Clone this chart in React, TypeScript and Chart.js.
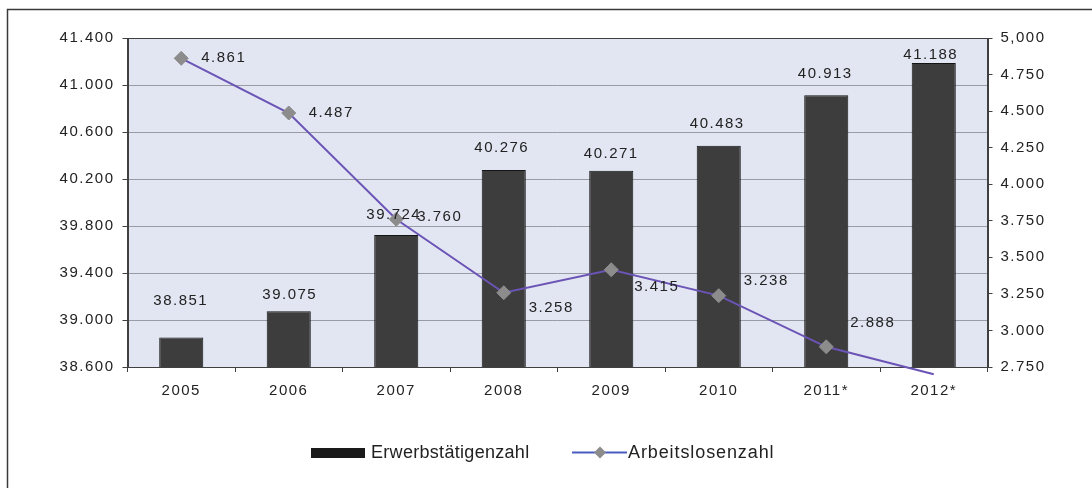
import React, { useEffect, useRef } from 'react';
import { Chart, registerables } from 'chart.js';

Chart.register(...registerables);

const categories = ['2005', '2006', '2007', '2008', '2009', '2010', '2011*', '2012*'];
const erwerbstaetige = [38851, 39075, 39724, 40276, 40271, 40483, 40913, 41188];
const arbeitslose = [4861, 4487, 3760, 3258, 3415, 3238, 2888, 2700];
const leftTickLabels = ['38.600', '39.000', '39.400', '39.800', '40.200', '40.600', '41.000', '41.400'];
const rightTickLabels = ['2.750', '3.000', '3.250', '3.500', '3.750', '4.000', '4.250', '4.500', '4.750', '5,000'];
const seriesNames = ['Erwerbstätigenzahl', 'Arbeitslosenzahl'];

// label placement tweaks (pixels, relative to the mark computed by the scales)
const barLabelOffsets: number[][] = [[-0.5, -37], [1, -16.5], [-2.5, -20.5], [-2, -22], [0, -17], [-1.5, -21.5], [-1, -21], [-3, -8]];
const lineLabelOffsets: (number[] | null)[] = [[20, 0], [20, 0], [21, -2], [25, 15], [23, 17], [25, -15], [24, -24], null];
const pointRadii = [7, 7, 7, 7, 7, 7, 7, 0];

const FONT = '"Liberation Sans", Arial, sans-serif';
const fmt = (v: number) => String(v).replace(/\B(?=(\d{3})+(?!\d))/g, '.');

const decorPlugin = {
  id: 'decor',
  beforeDraw(chart: any) {
    const { ctx, chartArea: a, width, height } = chart;
    ctx.save();
    ctx.fillStyle = '#ffffff';
    ctx.fillRect(0, 0, width, height);
    ctx.fillStyle = '#e2e6f2';
    ctx.fillRect(a.left, a.top, a.right - a.left, a.bottom - a.top);
    ctx.restore();
    (ctx as any).letterSpacing = '1.5px';
  },
  beforeDatasetsDraw(chart: any) {
    const { ctx, chartArea: a } = chart;
    ctx.save();
    ctx.strokeStyle = '#404040';
    ctx.lineWidth = 1;
    ctx.strokeRect(Math.round(a.left) + 0.5, Math.round(a.top) + 0.5, Math.round(a.right - a.left), Math.round(a.bottom - a.top));
    ctx.restore();
  },
  afterDatasetsDraw(chart: any) {
    const { ctx } = chart;
    ctx.save();
    (ctx as any).letterSpacing = '1.5px';
    ctx.font = `15px ${FONT}`;
    ctx.fillStyle = '#222222';
    ctx.textBaseline = 'middle';
    const barMeta = chart.getDatasetMeta(0);
    barMeta.data.forEach((el: any, i: number) => {
      const off = barLabelOffsets[i];
      ctx.textAlign = 'center';
      ctx.fillText(fmt(erwerbstaetige[i]), el.x + off[0], el.y + off[1]);
    });
    const lineMeta = chart.getDatasetMeta(1);
    lineMeta.data.forEach((el: any, i: number) => {
      const off = lineLabelOffsets[i];
      if (!off) return;
      ctx.textAlign = 'left';
      ctx.fillText(fmt(arbeitslose[i]), el.x + off[0], el.y + off[1]);
    });
    ctx.restore();
  },
  afterDraw(chart: any) {
    const { ctx, width, height } = chart;
    ctx.save();
    // outer frame
    ctx.strokeStyle = '#3a3a3a';
    ctx.lineWidth = 1.5;
    ctx.beginPath();
    ctx.moveTo(7.5, height + 2);
    ctx.lineTo(7.5, 9.5);
    ctx.lineTo(width + 2, 9.5);
    ctx.stroke();
    // legend
    const ly = 453;
    ctx.fillStyle = '#1a1a1a';
    ctx.fillRect(311, ly - 5, 54, 10);
    ctx.font = `18px ${FONT}`;
    ctx.fillStyle = '#222222';
    ctx.textBaseline = 'middle';
    ctx.textAlign = 'left';
    (ctx as any).letterSpacing = '0.3px';
    ctx.fillText(seriesNames[0], 371, ly);
    ctx.strokeStyle = '#4b5cc0';
    ctx.lineWidth = 2;
    ctx.beginPath();
    ctx.moveTo(572, ly - 0.5);
    ctx.lineTo(627, ly - 0.5);
    ctx.stroke();
    ctx.fillStyle = '#8c8c8c';
    ctx.beginPath();
    ctx.moveTo(600, ly - 6.5);
    ctx.lineTo(606, ly - 0.5);
    ctx.lineTo(600, ly + 5.5);
    ctx.lineTo(594, ly - 0.5);
    ctx.closePath();
    ctx.fill();
    ctx.fillStyle = '#222222';
    (ctx as any).letterSpacing = '0.9px';
    ctx.fillText(seriesNames[1], 628, ly);
    ctx.restore();
  },
};

export default function App() {
  const ref = useRef<HTMLCanvasElement>(null);
  useEffect(() => {
    document.body.style.margin = '0';
    const chart = new Chart(ref.current as HTMLCanvasElement, {
      type: 'bar',
      data: {
        labels: categories,
        datasets: [
          {
            type: 'bar',
            label: seriesNames[0],
            data: erwerbstaetige,
            yAxisID: 'y',
            backgroundColor: '#3d3d3d',
            borderColor: '#141414',
            borderWidth: 1,
            barPercentage: 0.41,
            categoryPercentage: 1,
            order: 2,
          },
          {
            type: 'line',
            label: seriesNames[1],
            data: arbeitslose,
            yAxisID: 'y1',
            borderColor: '#6b54b6',
            borderWidth: 2,
            pointStyle: 'rectRot',
            pointRadius: pointRadii,
            pointBackgroundColor: '#8c8c8c',
            pointBorderColor: '#8c8c8c',
            pointBorderWidth: 1,
            tension: 0,
            clip: false as any,
            order: 1,
          } as any,
        ],
      },
      options: {
        animation: false,
        responsive: false,
        maintainAspectRatio: false,
        layout: { padding: { top: 38, left: 0, right: 0, bottom: 0 } },
        plugins: { legend: { display: false }, tooltip: { enabled: false } },
        scales: {
          x: {
            offset: true,
            grid: { offset: true, drawOnChartArea: false, drawTicks: true, tickLength: 5, tickColor: '#404040' },
            border: { color: '#404040' },
            ticks: { autoSkip: false, maxRotation: 0, padding: 10, color: '#222222', font: { family: FONT, size: 15 } },
            afterFit: (s: any) => { s.height = 121; },
          },
          y: {
            position: 'left',
            min: 38600,
            max: 41400,
            ticks: {
              stepSize: 400,
              padding: 8,
              color: '#222222',
              font: { family: FONT, size: 15 },
              callback: (_v: any, i: number) => leftTickLabels[i],
            },
            grid: { color: '#999ca5', tickColor: '#404040', tickLength: 5, drawTicks: true },
            border: { color: '#404040' },
            afterFit: (s: any) => { s.width = 127.5; },
          },
          y1: {
            position: 'right',
            min: 2750,
            max: 5000,
            ticks: {
              stepSize: 250,
              padding: 8,
              color: '#222222',
              font: { family: FONT, size: 15 },
              callback: (_v: any, i: number) => rightTickLabels[i],
            },
            grid: { drawOnChartArea: false, tickColor: '#404040', tickLength: 5, drawTicks: true },
            border: { color: '#404040' },
            afterFit: (s: any) => { s.width = 104.5; },
          },
        },
      },
      plugins: [decorPlugin],
    });
    return () => chart.destroy();
  }, []);
  return (
    <div style={{ width: 1092, height: 488, overflow: 'hidden' }}>
      <canvas ref={ref} width={1092} height={488} style={{ display: 'block' }} />
    </div>
  );
}
